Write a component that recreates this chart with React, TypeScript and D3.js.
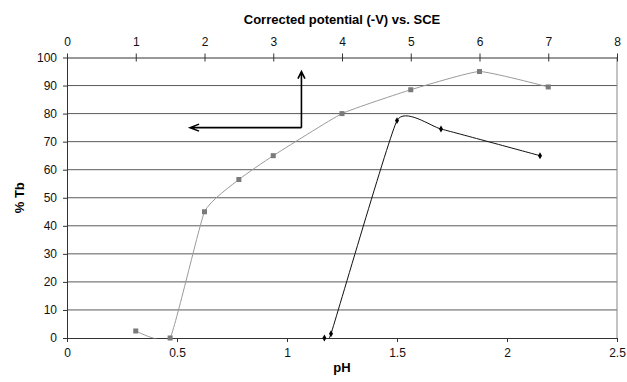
import React, { useEffect, useRef } from 'react';
import * as d3 from 'd3';

// grey series: %Tb vs corrected potential (top axis)
const potentialV = [1, 1.5, 2, 2.5, 3, 4, 5, 6, 7];
const potentialTb = [2.5, 0, 45, 56.5, 65, 80, 88.5, 95, 89.5];

// black series: %Tb vs pH (bottom axis)
const phValues = [1.17, 1.2, 1.5, 1.7, 2.15];
const phTb = [0, 1.5, 77.5, 74.5, 65];

const pHTicks = [0, 0.5, 1, 1.5, 2, 2.5];
const potentialTicks = [0, 1, 2, 3, 4, 5, 6, 7, 8];
const tbTicks = [0, 10, 20, 30, 40, 50, 60, 70, 80, 90, 100];

// arrow annotation, in potential / %Tb units
const arrowCorner = { v: 3.41, tb: 75 };
const arrowUpTo = 95;
const arrowLeftTo = 1.79;

const App = () => {
  const svgRef = useRef<SVGSVGElement>(null);

  useEffect(() => {
    const svg = d3.select(svgRef.current);
    svg.selectAll('*').remove();

    const width = 627;
    const height = 382;
    const margin = { top: 57.5, right: 10, bottom: 44, left: 67 };
    const font = 'Liberation Sans, Arial, sans-serif';

    const xPh = d3.scaleLinear().domain([0, 2.5]).range([margin.left, 617]);
    const xPot = d3.scaleLinear().domain([0, 8]).range([margin.left, 617]);
    const y = d3.scaleLinear().domain([0, 100]).range([338, margin.top]);

    svg.attr('width', width).attr('height', height);
    svg.append('rect').attr('width', width).attr('height', height).attr('fill', '#fff');

    // curves are clipped to the plot area, like the spreadsheet does
    svg.append('defs')
      .append('clipPath')
      .attr('id', 'plot-clip')
      .append('rect')
      .attr('x', xPh(0))
      .attr('y', y(100))
      .attr('width', xPh(2.5) - xPh(0))
      .attr('height', y(0) - y(100) + 0.5);

    // gridlines
    svg.append('g')
      .selectAll('line')
      .data(tbTicks.filter(d => d > 0 && d < 100))
      .enter()
      .append('line')
      .attr('x1', xPh(0))
      .attr('x2', xPh(2.5))
      .attr('y1', d => y(d))
      .attr('y2', d => y(d))
      .attr('stroke', '#5a5a5a')
      .attr('stroke-width', 1);

    // right border
    svg.append('line')
      .attr('x1', xPh(2.5)).attr('x2', xPh(2.5))
      .attr('y1', y(0)).attr('y2', y(100))
      .attr('stroke', '#888');

    const styleAxis = (g: any) => {
      g.selectAll('path').attr('stroke', '#333');
      g.selectAll('line').attr('stroke', '#333');
      g.selectAll('text')
        .attr('font-family', font)
        .attr('font-size', '12px')
        .attr('fill', '#111');
    };

    // bottom axis (pH)
    svg.append('g')
      .attr('transform', `translate(0,${y(0)})`)
      .call(d3.axisBottom(xPh).tickValues(pHTicks).tickFormat(d3.format('')).tickSize(4).tickSizeOuter(0).tickPadding(6))
      .call(styleAxis);

    // top axis (potential)
    const top = svg.append('g')
      .attr('transform', `translate(0,${y(100)})`)
      .call(d3.axisTop(xPot).tickValues(potentialTicks).tickFormat(d3.format('d')).tickSize(4).tickSizeOuter(0).tickPadding(8))
      .call(styleAxis);
    top.selectAll('.tick line').attr('y2', 4).attr('y1', -4);

    // left axis
    const left = svg.append('g')
      .attr('transform', `translate(${margin.left},0)`)
      .call(d3.axisLeft(y).tickValues(tbTicks).tickSize(4).tickSizeOuter(0).tickPadding(6))
      .call(styleAxis);
    left.selectAll('.tick line').attr('x2', 1).attr('x1', -4);

    // axis titles
    svg.append('text')
      .attr('x', xPot(4))
      .attr('y', 24)
      .attr('text-anchor', 'middle')
      .attr('font-family', font)
      .attr('font-weight', 'bold')
      .attr('font-size', '13px')
      .text('Corrected potential (-V) vs. SCE');

    svg.append('text')
      .attr('x', xPh(1.25))
      .attr('y', 372)
      .attr('text-anchor', 'middle')
      .attr('font-family', font)
      .attr('font-weight', 'bold')
      .attr('font-size', '13px')
      .text('pH');

    svg.append('text')
      .attr('transform', `translate(24,${y(50)}) rotate(-90)`)
      .attr('text-anchor', 'middle')
      .attr('font-family', font)
      .attr('font-weight', 'bold')
      .attr('font-size', '13px')
      .text('% Tb');

    // softer smoothing, close to the spreadsheet's smoothed line
    const curve = d3.curveCardinal.tension(0.6);

    // grey series
    const greyData = potentialV.map((v, i) => ({ x: v, y: potentialTb[i] }));
    svg.append('path')
      .datum(greyData)
      .attr('clip-path', 'url(#plot-clip)')
      .attr('fill', 'none')
      .attr('stroke', '#9a9a9a')
      .attr('stroke-width', 1)
      .attr('d', d3.line<any>().x(d => xPot(d.x)).y(d => y(d.y)).curve(curve));
    svg.append('g')
      .selectAll('rect')
      .data(greyData)
      .enter()
      .append('rect')
      .attr('x', d => xPot(d.x) - 2.5)
      .attr('y', d => y(d.y) - 2.5)
      .attr('width', 5)
      .attr('height', 5)
      .attr('fill', '#7a7a7a');

    // black series
    const blackData = phValues.map((v, i) => ({ x: v, y: phTb[i] }));
    svg.append('path')
      .datum(blackData)
      .attr('clip-path', 'url(#plot-clip)')
      .attr('fill', 'none')
      .attr('stroke', '#111')
      .attr('stroke-width', 1)
      .attr('d', d3.line<any>().x(d => xPh(d.x)).y(d => y(d.y)).curve(curve));
    svg.append('g')
      .selectAll('path')
      .data(blackData)
      .enter()
      .append('path')
      .attr('transform', d => `translate(${xPh(d.x)},${y(d.y)})`)
      .attr('d', d3.symbol().type(d3.symbolDiamond).size(14)())
      .attr('fill', '#000');

    // arrows
    const cx = xPot(arrowCorner.v);
    const cy = y(arrowCorner.tb);
    const upY = y(arrowUpTo);
    const leftX = xPot(arrowLeftTo);
    const arrow = svg.append('g')
      .attr('fill', 'none')
      .attr('stroke', '#000')
      .attr('stroke-width', 1.6);
    arrow.append('path').attr('d', `M${cx},${cy}V${upY}M${cx - 3.5},${upY + 7}L${cx},${upY}L${cx + 3.5},${upY + 7}`);
    arrow.append('path').attr('d', `M${cx},${cy}H${leftX}M${leftX + 9},${cy - 3.5}L${leftX},${cy}L${leftX + 9},${cy + 3.5}`);
  }, []);

  return <svg ref={svgRef} style={{ position: 'fixed', left: 0, top: 0, display: 'block' }}></svg>;
};

export default App;
